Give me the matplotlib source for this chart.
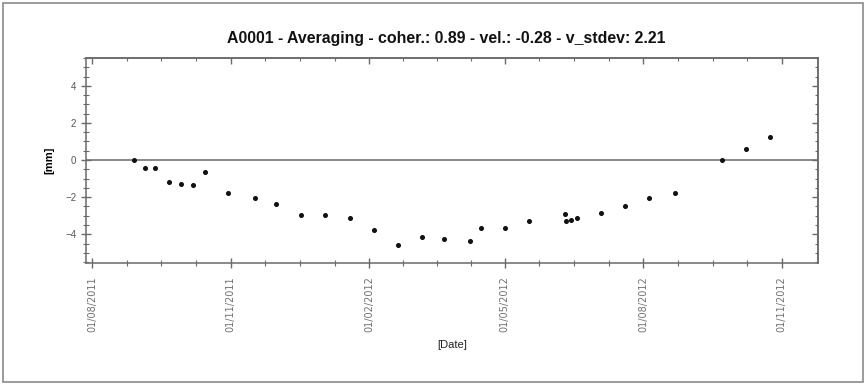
"""Displacement time series for point A0001 (averaging)."""

import numpy as np
import pandas as pd
import matplotlib
matplotlib.use('Agg')
import matplotlib.pyplot as plt
import matplotlib.dates as mdates
from matplotlib.patches import Rectangle
from matplotlib.ticker import FixedLocator, MultipleLocator, NullFormatter

plt.rcParams.update({
    'font.family': ['Liberation Sans', 'DejaVu Sans'],
    'font.size': 8,
})

# data
dates = pd.to_datetime([
    '2011-08-29', '2011-09-05', '2011-09-12', '2011-09-21', '2011-09-29',
    '2011-10-07', '2011-10-15', '2011-10-30', '2011-11-17', '2011-12-01',
    '2011-12-18', '2012-01-03', '2012-01-19', '2012-02-04', '2012-02-20',
    '2012-03-07', '2012-03-22', '2012-04-08', '2012-04-15', '2012-05-01',
    '2012-05-17', '2012-06-10', '2012-06-11', '2012-06-14', '2012-06-18',
    '2012-07-04', '2012-07-20', '2012-08-05', '2012-08-22', '2012-09-22',
    '2012-10-08', '2012-10-24',
])
disp_mm = [
    0.00, -0.42, -0.42, -1.19, -1.30,
    -1.37, -0.65, -1.75, -2.07, -2.36,
    -2.97, -2.97, -3.14, -3.75, -4.58,
    -4.14, -4.25, -4.36, -3.69, -3.64,
    -3.31, -2.90, -3.31, -3.21, -3.14,
    -2.86, -2.47, -2.07, -1.76, -0.02,
    0.58, 1.23,
]
major_dates = pd.to_datetime(['2011-08-01', '2011-11-01', '2012-02-01',
                              '2012-05-01', '2012-08-01', '2012-11-01'])
major_labels = ['01/08/2011', '01/11/2011', '01/02/2012',
                '01/05/2012', '01/08/2012', '01/11/2012']
y_ticks = [-4, -2, 0, 2, 4]

title = 'A0001 - Averaging - coher.: 0.89 - vel.: -0.28 - v_stdev: 2.21'

C_AX = '#6a6a6a'

W, H = 866, 384
fig = plt.figure(figsize=(W / 100, H / 100), dpi=100)
fig.patches.append(Rectangle((3 / W, 2 / H), (W - 6) / W, (H - 5) / H,
                             transform=fig.transFigure, fill=False,
                             edgecolor='#8a8a8a', linewidth=1.2))

ax = fig.add_axes([86 / W, 1 - 263 / H, (818 - 86) / W, (263 - 58) / H])

ax.plot(dates, disp_mm, 'o', color='#111111', markersize=2.6, linestyle='none', zorder=3)
ax.axhline(0, color=C_AX, linewidth=1.1, zorder=2)

ax.set_xlim(pd.Timestamp('2011-07-28'), pd.Timestamp('2012-11-25'))
ax.set_ylim(-5.55, 5.5)

major_num = mdates.date2num(major_dates)
minor_num = np.concatenate([np.linspace(a, b, 5)[1:-1]
                            for a, b in zip(major_num[:-1], major_num[1:])])
ax.xaxis.set_major_locator(FixedLocator(major_num))
ax.xaxis.set_minor_locator(FixedLocator(minor_num))
ax.set_xticklabels(major_labels, rotation=90, fontsize=7, color='#707070',
                   family='DejaVu Sans')

ax.set_yticks(y_ticks)
ax.yaxis.set_minor_locator(MultipleLocator(0.5))
ax.tick_params(axis='y', labelsize=7, labelcolor='#555555')

for s in ax.spines.values():
    s.set_color(C_AX)
    s.set_linewidth(1.1)

ax.tick_params(which='both', color=C_AX, direction='inout')
ax.tick_params(which='major', length=7, width=1)
ax.tick_params(which='minor', length=4, width=0.8)
ax.tick_params(axis='x', pad=6)

# mirrored ticks on top and right, pointing inwards only
top = ax.secondary_xaxis('top')
top.xaxis.set_major_locator(FixedLocator(major_num))
top.xaxis.set_minor_locator(FixedLocator(minor_num))
top.xaxis.set_major_formatter(NullFormatter())
right = ax.secondary_yaxis('right')
right.set_yticks(y_ticks)
right.yaxis.set_minor_locator(MultipleLocator(0.5))
right.yaxis.set_major_formatter(NullFormatter())
for sec in (top, right):
    for s in sec.spines.values():
        s.set_color(C_AX)
        s.set_linewidth(1.1)
    sec.tick_params(which='both', color=C_AX, direction='in')
    sec.tick_params(which='major', length=4, width=1)
    sec.tick_params(which='minor', length=2.5, width=0.8)

ax.set_ylabel('[mm]', fontsize=8, fontweight='bold', labelpad=8)
ax.set_xlabel('[Date]', fontsize=8, labelpad=6, color='#222222')

fig.text(446 / W, 1 - 38 / H, title, ha='center', va='center',
         fontsize=11.4, fontweight='bold', color='#111111')

fig.savefig('out.png', dpi=100)
